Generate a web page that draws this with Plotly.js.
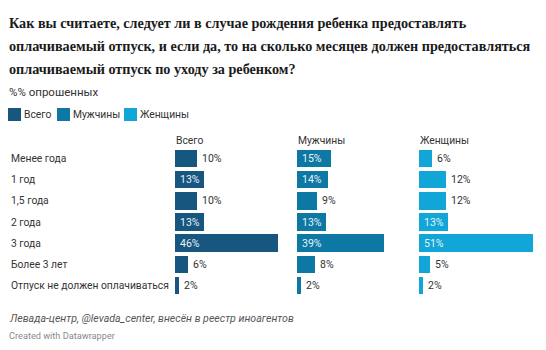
<!DOCTYPE html>
<html>
<head>
<meta charset="utf-8">
<script src="https://cdn.plot.ly/plotly-3.0.1.min.js"></script>
<style>html,body{margin:0;padding:0;background:#fff;}#chart{width:546px;height:350px;}</style>
</head>
<body>
<div id="chart"></div>
<script>
const categories = ["Менее года", "1 год", "1,5 года", "2 года", "3 года", "Более 3 лет", "Отпуск не должен оплачиваться"];
const seriesNames = ["Всего", "Мужчины", "Женщины"];
const totalValues = [10, 13, 10, 13, 46, 6, 2];
const menValues = [15, 14, 9, 13, 39, 8, 2];
const womenValues = [6, 12, 12, 13, 51, 5, 2];
const titleLines = [
  "Как вы считаете, следует ли в случае рождения ребенка предоставлять",
  "оплачиваемый отпуск, и если да, то на сколько месяцев должен предоставляться",
  "оплачиваемый отпуск по уходу за ребенком?"
];
const subtitle = "%% опрошенных";
const sourceText = "Левада-центр, @levada_center, внесён в реестр иноагентов";
const creditText = "Created with Datawrapper";

const seriesValues = [totalValues, menValues, womenValues];
const colors = ["#17567f", "#0d78a3", "#11a6d7"];
const W = 546, H = 350;
const font = "Roboto, 'Noto Sans', sans-serif";
const panelLeft = [175, 297, 419];
const panelWidth = 114;
const xMax = 51;
const yTop = 148, yBottom = 296;
const labelSize = 10.3;

const axisIds = ["", "2", "3"];
const traces = seriesValues.map((vals, i) => ({
  type: "bar",
  orientation: "h",
  x: vals,
  y: categories,
  xaxis: "x" + axisIds[i],
  yaxis: "y",
  width: 0.83,
  marker: {color: colors[i], line: {width: 0}},
  hoverinfo: "skip",
  showlegend: false,
  name: seriesNames[i]
}));

const annotations = [];
const shapes = [];
const titleY = [23, 46, 69];
titleLines.forEach((t, k) => annotations.push({
  text: "<b>" + t + "</b>", xref: "paper", yref: "paper", x: 7 / W, y: 1 - titleY[k] / H,
  xanchor: "left", yanchor: "middle", showarrow: false,
  font: {family: "'Liberation Serif', serif", size: 14.2, color: "#1a1a1a"}
}));
annotations.push({
  text: subtitle, xref: "paper", yref: "paper", x: 7 / W, y: 1 - 92 / H,
  xanchor: "left", yanchor: "middle", showarrow: false,
  font: {family: font, size: 11.5, color: "#333"}
});
const legX = [8, 57, 124];
seriesNames.forEach((n, i) => {
  shapes.push({type: "rect", xref: "paper", yref: "paper",
    x0: legX[i] / W, x1: (legX[i] + 13) / W, y0: 1 - 121 / H, y1: 1 - 108 / H,
    fillcolor: colors[i], line: {width: 0}});
  annotations.push({text: n, xref: "paper", yref: "paper", x: (legX[i] + 14) / W, y: 1 - 115 / H,
    xanchor: "left", yanchor: "middle", showarrow: false,
    font: {family: font, size: labelSize, color: "#333"}});
});
seriesNames.forEach((n, i) => annotations.push({
  text: n, xref: "x" + axisIds[i] + " domain", yref: "paper", x: 0, y: 1 - 140 / H,
  xanchor: "left", yanchor: "middle", showarrow: false, xshift: -1,
  font: {family: font, size: labelSize, color: "#333"}
}));
categories.forEach(c => annotations.push({
  text: c, xref: "paper", yref: "y", x: 9 / W, y: c,
  xanchor: "left", yanchor: "middle", showarrow: false,
  font: {family: font, size: labelSize, color: "#333"}
}));
seriesValues.forEach((vals, i) => vals.forEach((v, j) => {
  const inside = v >= 13;
  annotations.push({
    text: v + "%", xref: "x" + axisIds[i], yref: "y", x: inside ? 0 : v, y: categories[j],
    xanchor: "left", yanchor: "middle", showarrow: false, xshift: 3,
    font: {family: font, size: 10.5, color: inside ? "#e8f3f9" : "#333"}
  });
}));
annotations.push({
  text: "<i>" + sourceText + "</i>", xref: "paper", yref: "paper", x: 7 / W, y: 1 - 318 / H,
  xanchor: "left", yanchor: "middle", showarrow: false,
  font: {family: font, size: 10.6, color: "#555"}
});
annotations.push({
  text: creditText, xref: "paper", yref: "paper", x: 7 / W, y: 1 - 335 / H,
  xanchor: "left", yanchor: "middle", showarrow: false,
  font: {family: font, size: 9.2, color: "#8a8a8a"}
});

const layout = {
  width: W, height: H,
  margin: {l: 0, r: 0, t: 0, b: 0},
  paper_bgcolor: "#fff", plot_bgcolor: "rgba(0,0,0,0)",
  showlegend: false,
  bargap: 0,
  annotations: annotations,
  shapes: shapes,
  yaxis: {domain: [1 - yBottom / H, 1 - yTop / H], type: "category", categoryorder: "array",
    categoryarray: categories, autorange: "reversed", visible: false, fixedrange: true}
};
axisIds.forEach((id, i) => {
  layout["xaxis" + id] = {
    domain: [panelLeft[i] / W, (panelLeft[i] + panelWidth) / W],
    range: [0, xMax], visible: false, fixedrange: true, anchor: "y"
  };
});

Plotly.newPlot("chart", traces, layout, {displayModeBar: false, staticPlot: true});
</script>
</body>
</html>
